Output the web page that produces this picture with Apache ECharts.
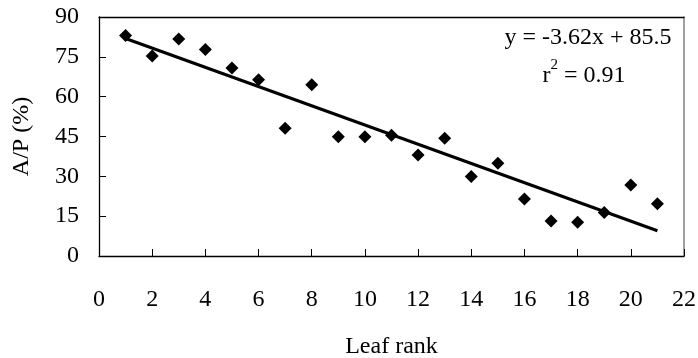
<!DOCTYPE html>
<html>
<head>
<meta charset="utf-8">
<script src="https://cdn.jsdelivr.net/npm/echarts@6/dist/echarts.min.js"></script>
<style>
html,body{margin:0;padding:0;background:#fff;}
#c{width:698px;height:358px;}
</style>
</head>
<body>
<div id="c"></div>
<script>
var leafRank = [1,2,3,4,5,6,7,8,9,10,11,12,13,14,15,16,17,18,19,20,21];
var apValues = [83.0,75.3,81.7,77.8,70.8,66.4,48.1,64.5,44.9,44.9,45.5,38.0,44.3,29.9,34.9,21.5,13.2,12.7,16.4,26.7,19.7];
var trendX = [1, 21];
var trendY = [81.9, 9.5];
var xTicks = [0,2,4,6,8,10,12,14,16,18,20,22];
var yTicks = [0,15,30,45,60,75,90];
var equationText = 'y = -3.62x + 85.5';
var r2Value = '0.91';

var FONT = '"Liberation Serif","Times New Roman",serif';
var FS = 24;
var chart = echarts.init(document.getElementById('c'), null, {renderer:'canvas'});

var scatterData = leafRank.map(function(x,i){return [x, apValues[i]];});
var trendData = trendX.map(function(x,i){return [x, trendY[i]];});

chart.setOption({
  animation:false,
  backgroundColor:'#fff',
  grid:{left:99, right:14, top:17, bottom:102, containLabel:false, outerBoundsMode:'none'},
  xAxis:[{
    type:'value', min:xTicks[0], max:xTicks[xTicks.length-1], interval:2,
    name:'Leaf rank', nameLocation:'middle', nameGap:79,
    nameTextStyle:{fontFamily:FONT, fontSize:FS, color:'#000'},
    axisLine:{onZero:false, lineStyle:{color:'#000', width:1.3}},
    axisTick:{inside:true, length:7, lineStyle:{color:'#000', width:1}},
    axisLabel:{margin:32, fontFamily:FONT, fontSize:FS, color:'#000',
      formatter:function(v){return xTicks.indexOf(v)>=0 ? String(v) : '';}},
    splitLine:{show:false}
  },{
    type:'value', position:'top', min:0, max:22,
    axisLine:{show:true, onZero:false, lineStyle:{color:'#000', width:1.3}},
    axisTick:{show:false}, axisLabel:{show:false}, splitLine:{show:false}
  }],
  yAxis:[{
    type:'value', min:yTicks[0], max:yTicks[yTicks.length-1], interval:15,
    name:'A/P (%)', nameLocation:'middle', nameGap:65,
    nameTextStyle:{fontFamily:FONT, fontSize:FS, color:'#000'},
    axisLine:{show:true, onZero:false, lineStyle:{color:'#000', width:1.3}},
    axisTick:{show:true, inside:true, length:7, lineStyle:{color:'#000', width:1}},
    axisLabel:{margin:20, fontFamily:FONT, fontSize:FS, color:'#000'},
    splitLine:{show:false}
  },{
    type:'value', position:'right', min:0, max:90,
    axisLine:{show:true, onZero:false, lineStyle:{color:'#808080', width:1.5}},
    axisTick:{show:false}, axisLabel:{show:false}, splitLine:{show:false}
  }],
  series:[{
    type:'line', data:trendData, showSymbol:false, symbol:'none',
    lineStyle:{color:'#000', width:3}, z:2
  },{
    type:'scatter', data:scatterData, symbol:'diamond', symbolSize:13,
    itemStyle:{color:'#000', opacity:1}, z:3
  }],
  graphic:[{
    type:'text', x:588, y:38,
    style:{text:equationText, font:FS+'px '+FONT, fill:'#000', align:'center', verticalAlign:'middle'}
  },{
    type:'text', x:584, y:73,
    style:{
      align:'center', verticalAlign:'middle',
      text:'{m|r}{s|2}{m| = '+r2Value+'}',
      rich:{
        m:{fontFamily:FONT, fontSize:FS, color:'#000', lineHeight:30, verticalAlign:'bottom'},
        s:{fontFamily:FONT, fontSize:15, color:'#000', lineHeight:30, verticalAlign:'top'}
      }
    }
  }]
});
</script>
</body>
</html>
